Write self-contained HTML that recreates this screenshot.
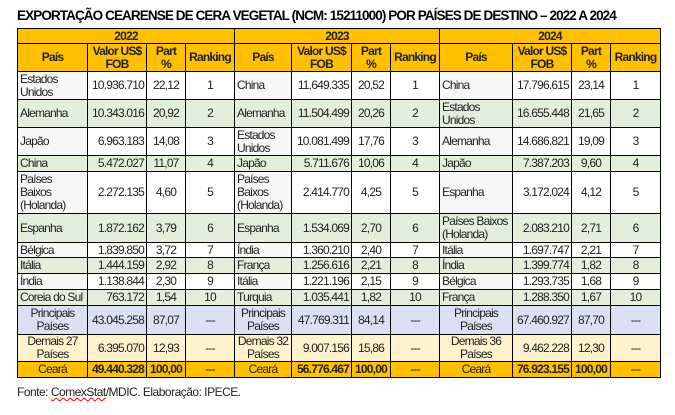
<!DOCTYPE html>
<html><head><meta charset="utf-8"><style>
body{margin:0;width:675px;height:415px;background:#fff;position:relative;overflow:hidden;font-family:"Liberation Sans",sans-serif;}
.t{position:absolute;left:17px;top:8px;font-weight:bold;font-size:13.5px;letter-spacing:-0.9px;white-space:nowrap;color:#000}
table{position:absolute;left:17px;top:28px;width:643px;border-collapse:collapse;table-layout:fixed;font-size:12px;letter-spacing:-0.8px;color:#222}
td{border:1px solid #000;padding:0 2px;line-height:13px;overflow:hidden;white-space:nowrap}
.y td,.h td{background:#FFC000;font-weight:bold;text-align:center;color:#222}
.n{text-align:right}.c{text-align:center}
.g td{background:#E2EFDA}
.w td{background:#fff}.w td.p{background:#F7F7F7}
.b td{background:#D9E1F2}
.d td{background:#FFF2CC}
.s td{background:#FFC000;font-weight:bold}
.s td.c{font-weight:normal}
.f{position:absolute;left:17px;top:385px;font-size:12px;letter-spacing:-0.5px;color:#222}
.f u{text-decoration:underline wavy red;text-decoration-thickness:1px}
</style></head><body>
<div class="t">EXPORTAÇÃO CEARENSE DE CERA VEGETAL (NCM: 15211000) POR PAÍSES DE DESTINO – 2022 A 2024</div>
<table>
<colgroup><col style="width:70px"><col style="width:59px"><col style="width:39px"><col style="width:49px"><col style="width:57px"><col style="width:60px"><col style="width:39px"><col style="width:49px"><col style="width:73px"><col style="width:59px"><col style="width:39px"><col style="width:50px"></colgroup>
<tr class="y" style="height:15px"><td colspan="4">2022</td><td colspan="4">2023</td><td colspan="4">2024</td></tr>
<tr class="h" style="height:28px"><td>País</td><td>Valor US$<br>FOB</td><td>Part<br>%</td><td>Ranking</td><td>País</td><td>Valor US$<br>FOB</td><td>Part<br>%</td><td>Ranking</td><td>País</td><td>Valor US$<br>FOB</td><td>Part<br>%</td><td>Ranking</td></tr>
<tr class="w" style="height:28px"><td class="p">Estados<br>Unidos</td><td class="n">10.936.710</td><td class="c">22,12</td><td class="c">1</td><td class="p">China</td><td class="n">11.649.335</td><td class="c">20,52</td><td class="c">1</td><td class="p">China</td><td class="n">17.796.615</td><td class="c">23,14</td><td class="c">1</td></tr>
<tr class="g" style="height:28px"><td>Alemanha</td><td class="n">10.343.016</td><td class="c">20,92</td><td class="c">2</td><td>Alemanha</td><td class="n">11.504.499</td><td class="c">20,26</td><td class="c">2</td><td>Estados<br>Unidos</td><td class="n">16.655.448</td><td class="c">21,65</td><td class="c">2</td></tr>
<tr class="w" style="height:28px"><td class="p">Japão</td><td class="n">6.963.183</td><td class="c">14,08</td><td class="c">3</td><td class="p">Estados<br>Unidos</td><td class="n">10.081.499</td><td class="c">17,76</td><td class="c">3</td><td class="p">Alemanha</td><td class="n">14.686.821</td><td class="c">19,09</td><td class="c">3</td></tr>
<tr class="g" style="height:16px"><td>China</td><td class="n">5.472.027</td><td class="c">11,07</td><td class="c">4</td><td>Japão</td><td class="n">5.711.676</td><td class="c">10,06</td><td class="c">4</td><td>Japão</td><td class="n">7.387.203</td><td class="c">9,60</td><td class="c">4</td></tr>
<tr class="w" style="height:42px"><td class="p">Países<br>Baixos<br>(Holanda)</td><td class="n">2.272.135</td><td class="c">4,60</td><td class="c">5</td><td class="p">Países<br>Baixos<br>(Holanda)</td><td class="n">2.414.770</td><td class="c">4,25</td><td class="c">5</td><td class="p">Espanha</td><td class="n">3.172.024</td><td class="c">4,12</td><td class="c">5</td></tr>
<tr class="g" style="height:29px"><td>Espanha</td><td class="n">1.872.162</td><td class="c">3,79</td><td class="c">6</td><td>Espanha</td><td class="n">1.534.069</td><td class="c">2,70</td><td class="c">6</td><td>Países Baixos<br>(Holanda)</td><td class="n">2.083.210</td><td class="c">2,71</td><td class="c">6</td></tr>
<tr class="w" style="height:15px"><td class="p">Bélgica</td><td class="n">1.839.850</td><td class="c">3,72</td><td class="c">7</td><td class="p">Índia</td><td class="n">1.360.210</td><td class="c">2,40</td><td class="c">7</td><td class="p">Itália</td><td class="n">1.697.747</td><td class="c">2,21</td><td class="c">7</td></tr>
<tr class="g" style="height:16px"><td>Itália</td><td class="n">1.444.159</td><td class="c">2,92</td><td class="c">8</td><td>França</td><td class="n">1.256.616</td><td class="c">2,21</td><td class="c">8</td><td>Índia</td><td class="n">1.399.774</td><td class="c">1,82</td><td class="c">8</td></tr>
<tr class="w" style="height:16px"><td class="p">Índia</td><td class="n">1.138.844</td><td class="c">2,30</td><td class="c">9</td><td class="p">Itália</td><td class="n">1.221.196</td><td class="c">2,15</td><td class="c">9</td><td class="p">Bélgica</td><td class="n">1.293.735</td><td class="c">1,68</td><td class="c">9</td></tr>
<tr class="g" style="height:16px"><td>Coreia do Sul</td><td class="n">763.172</td><td class="c">1,54</td><td class="c">10</td><td>Turquia</td><td class="n">1.035.441</td><td class="c">1,82</td><td class="c">10</td><td>França</td><td class="n">1.288.350</td><td class="c">1,67</td><td class="c">10</td></tr>
<tr class="b" style="height:29px"><td class="c">Principais<br>Países</td><td class="n">43.045.258</td><td class="c">87,07</td><td class="c">---</td><td class="c">Principais<br>Países</td><td class="n">47.769.311</td><td class="c">84,14</td><td class="c">---</td><td class="c">Principais<br>Países</td><td class="n">67.460.927</td><td class="c">87,70</td><td class="c">---</td></tr>
<tr class="d" style="height:27px"><td class="c">Demais 27<br>Países</td><td class="n">6.395.070</td><td class="c">12,93</td><td class="c">---</td><td class="c">Demais 32<br>Países</td><td class="n">9.007.156</td><td class="c">15,86</td><td class="c">---</td><td class="c">Demais 36<br>Países</td><td class="n">9.462.228</td><td class="c">12,30</td><td class="c">---</td></tr>
<tr class="s" style="height:16px"><td class="c">Ceará</td><td class="n">49.440.328</td><td style="text-align:center">100,00</td><td class="c">---</td><td class="c">Ceará</td><td class="n">56.776.467</td><td style="text-align:center">100,00</td><td class="c">---</td><td class="c">Ceará</td><td class="n">76.923.155</td><td style="text-align:center">100,00</td><td class="c">---</td></tr>
</table>
<div class="f">Fonte: <u>ComexStat</u>/MDIC. Elaboração: IPECE.</div>
</body></html>
